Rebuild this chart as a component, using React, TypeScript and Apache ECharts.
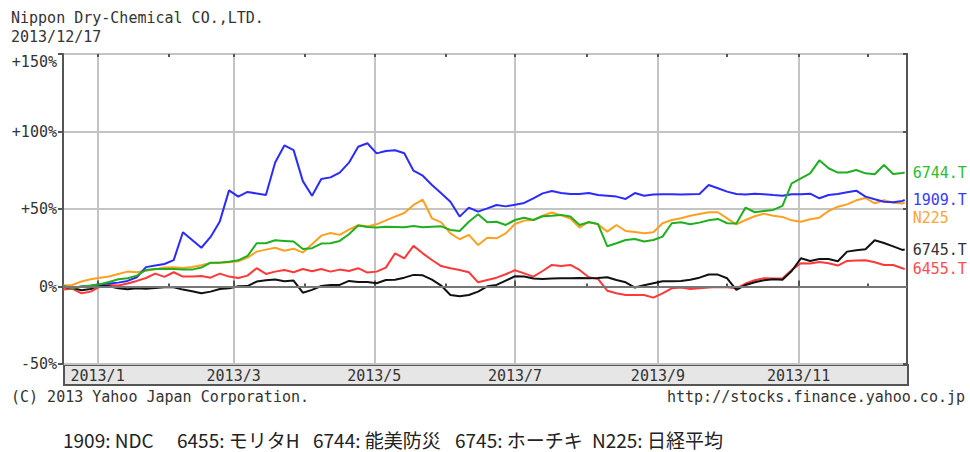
import React, { useEffect, useRef } from 'react';
import * as echarts from 'echarts';

const dates = [
  '2012-12-17', '2012-12-21', '2012-12-25', '2012-12-29', '2013-01-02', '2013-01-06', '2013-01-10', '2013-01-14',
  '2013-01-18', '2013-01-22', '2013-01-26', '2013-01-30', '2013-02-03', '2013-02-07', '2013-02-11', '2013-02-15',
  '2013-02-19', '2013-02-23', '2013-02-27', '2013-03-03', '2013-03-07', '2013-03-11', '2013-03-15', '2013-03-19',
  '2013-03-23', '2013-03-27', '2013-03-31', '2013-04-04', '2013-04-08', '2013-04-12', '2013-04-16', '2013-04-20',
  '2013-04-24', '2013-04-28', '2013-05-02', '2013-05-06', '2013-05-10', '2013-05-14', '2013-05-18', '2013-05-22',
  '2013-05-26', '2013-05-30', '2013-06-03', '2013-06-07', '2013-06-11', '2013-06-15', '2013-06-19', '2013-06-23',
  '2013-06-27', '2013-07-01', '2013-07-05', '2013-07-09', '2013-07-13', '2013-07-17', '2013-07-21', '2013-07-25',
  '2013-07-29', '2013-08-02', '2013-08-06', '2013-08-10', '2013-08-14', '2013-08-18', '2013-08-22', '2013-08-26',
  '2013-08-30', '2013-09-03', '2013-09-07', '2013-09-11', '2013-09-15', '2013-09-19', '2013-09-23', '2013-09-27',
  '2013-10-01', '2013-10-05', '2013-10-09', '2013-10-13', '2013-10-17', '2013-10-21', '2013-10-25', '2013-10-29',
  '2013-11-02', '2013-11-06', '2013-11-10', '2013-11-14', '2013-11-18', '2013-11-22', '2013-11-26', '2013-11-30',
  '2013-12-04', '2013-12-08', '2013-12-12', '2013-12-16', '2013-12-17',
];

// % change, 1909.T (NDC)
const v1909 = [
  0, -1, 0, 0.5, 1.4, 2, 2.5, 3.6, 6, 12.5, 13.5, 14.5, 17, 35, 30, 25,
  32, 42, 62, 58, 61, 60, 59, 80, 91, 88, 68, 58.6, 69.4, 70.4, 73.5, 79.9,
  90.2, 92.4, 85.9, 87.4, 87.9, 86, 74.7, 71.5, 65.5, 60.1, 54.7, 45.1, 50.9, 48.3, 50.4, 52.6,
  51.7, 52.8, 53.9, 56.9, 60.1, 61.6, 60.3, 59.7, 59.7, 60.3, 59, 58.6, 58, 56.5, 60.3, 58.6,
  59.3, 59.5, 59.5, 59.3, 59.5, 59.7, 65.5, 63.4, 61.2, 59.7, 59.3, 59.9, 59.5, 59, 58.6, 59.5,
  59.5, 59.9, 56.9, 59, 59.7, 60.8, 61.8, 58, 56.3, 54.7, 54.3, 55.2, 55.8,
];

// % change, 6744.T (能美防災)
const v6744 = [
  0.5, -1.2, 0, 0.6, 1.4, 2.9, 4.7, 5.3, 7, 10.7, 11.3, 11.3, 11.3, 10.9, 10.9, 12.2,
  15.4, 15.4, 16, 16.9, 19.7, 27.9, 27.9, 29.8, 29.4, 29, 24.2, 24.7, 27.7, 27.9, 29.4, 33.7,
  39.3, 38.4, 38, 38.6, 38.4, 38.2, 39.1, 38.2, 38.6, 38.8, 36.5, 35.8, 41.8, 46.6, 41.4, 41.8,
  39.7, 42.9, 44.4, 42.9, 45.3, 45.7, 46.2, 45.1, 39.7, 41.4, 40.3, 26, 27.9, 30, 30.7, 29,
  30, 32.2, 40.8, 41.4, 40.1, 41.2, 42.7, 43.6, 40.8, 40.6, 50.9, 47.9, 48.7, 49.4, 52, 66.6,
  69.8, 73, 81.4, 76.3, 73.5, 73.5, 75.2, 73, 72.4, 78.4, 72.6, 73.2, 73.5,
];

// % change, N225 (日経平均)
const vN225 = [
  0.6, 1, 3.2, 4.7, 5.7, 6.4, 8.1, 9.6, 9.2, 10.2, 11.1, 12.2, 12.4, 12, 12.6, 13.7,
  15.2, 15.4, 15.6, 16.3, 18.6, 22.5, 23.8, 25, 23.1, 24.4, 21.9, 27.2, 32.8, 34.5, 33.3, 36.7,
  39.5, 38.8, 40.1, 42.7, 45.1, 47.4, 52.6, 56, 44, 41.4, 34.3, 30.5, 33.3, 26.8, 31.5, 31.1,
  34.3, 40.3, 42.5, 42.9, 45.7, 47.7, 45.9, 43.8, 38, 41.8, 40.1, 35.4, 39.7, 35.8, 35.2, 34.3,
  35, 40.8, 42.9, 44, 45.7, 46.8, 47.9, 47.9, 44, 40.1, 42.9, 45.3, 47, 45.7, 44.9, 42.7,
  41.8, 43.4, 44.4, 48.7, 51.5, 53, 55.6, 57.1, 53.7, 55.6, 54.1, 53.5, 54.3,
];

// % change, 6455.T (モリタH)
const v6455 = [
  -2, -1.4, -4.4, -3.3, -0.1, 1, 0.6, 1.9, 3.6, 5.5, 8.3, 6.2, 9.2, 6.4, 6.4, 6.8,
  5.7, 8.3, 6.4, 5.5, 7, 11.8, 8.1, 9.6, 10.7, 9.2, 11.3, 9.8, 11.3, 9.6, 10.9, 10,
  11.8, 9, 9.6, 12.2, 21.4, 18.2, 26.2, 21.4, 17.1, 13.2, 11.8, 10.7, 9.2, 2.7, 4.2, 5.7,
  7.9, 10.5, 8.5, 6.4, 10, 13.9, 13.3, 13.9, 10.7, 6, 4.9, -2.7, -4.4, -5.5, -5.5, -5.5,
  -7.2, -4.4, -1.2, -0.7, -1.6, -1.2, -0.7, -0.3, -0.5, -1.2, 1.9, 4, 5.3, 5.1, 5.1, 10.7,
  15, 14.8, 15.8, 15, 13.5, 16.5, 16.7, 16.9, 15.6, 13.9, 13.9, 11.8, 11.3,
];

// % change, 6745.T (ホーチキ)
const v6745 = [
  -0.3, -0.9, -2.4, -1.6, 1, 0.1, -1.2, -1.8, -1.2, -1.4, -0.9, -0.5, -0.5, -2, -3.1, -4.4,
  -3.3, -1.6, -1.2, 0.1, 0.3, 3.2, 4, 4.5, 3.4, 3.8, -4, -2.2, 0.3, 1, 1, 3.6,
  2.9, 2.9, 2.1, 4.2, 4.4, 5.7, 7.5, 7.2, 4.4, 0.6, -5.5, -6.3, -5.5, -3.3, 0.1, 1,
  3.8, 6.6, 6.4, 5.1, 4.9, 5.1, 5.3, 5.3, 5.5, 5.3, 5.5, 6, 4.2, 2.7, -0.7, 0.8,
  2.1, 3.4, 3.4, 3.6, 4.4, 5.7, 7.7, 7.7, 5.3, -2.2, 1, 2.7, 4, 4.7, 4.4, 10,
  18.2, 16.5, 17.8, 17.8, 16.3, 22.5, 23.4, 24, 29.8, 28.1, 25.9, 23.6, 23.8,
];

const majorMonths = ['2013-01-01', '2013-03-01', '2013-05-01', '2013-07-01', '2013-09-01', '2013-11-01'];
const minorMonths = ['2013-02-01', '2013-04-01', '2013-06-01', '2013-08-01', '2013-10-01', '2013-12-01'];
const yTicks = { min: -50, max: 150, step: 50 };
const xRange = { min: '2012-12-17', max: '2013-12-18' };

const titleLines = ['Nippon Dry-Chemical CO.,LTD.', '2013/12/17'];
const copyrightText = '(C) 2013 Yahoo Japan Corporation.';
const urlText = 'http://stocks.finance.yahoo.co.jp';
const legendCodes = ['1909', '6455', '6744', '6745', 'N225'];
const legendNames = ['NDC', 'モリタH', '能美防災', 'ホーチキ', '日経平均'];

const mono = '"DejaVu Sans Mono", "Liberation Mono", monospace';

function toTs(s: string): number {
  const [y, m, d] = s.split('-').map(Number);
  return Date.UTC(y, m - 1, d);
}

function fmtMonth(v: number): string {
  const d = new Date(v);
  return d.getUTCFullYear() + '/' + (d.getUTCMonth() + 1);
}

export default function App() {
  const ref = useRef<HTMLDivElement>(null);

  useEffect(() => {
    if (!ref.current) return;
    const chart = echarts.init(ref.current, undefined, { renderer: 'svg' });

    const mk = (name: string, values: number[], color: string, labelColor: string, extra: any = {}) => ({
      name,
      type: 'line',
      data: dates.map((d, i) => [toTs(d), values[i]]),
      showSymbol: false,
      symbol: 'none',
      lineStyle: { color, width: 2 },
      itemStyle: { color },
      endLabel: {
        show: true,
        formatter: '{a}',
        color: labelColor,
        fontFamily: mono,
        fontSize: 15,
        distance: 8,
        ...(extra.labelOffset ? { offset: extra.labelOffset } : {}),
      },
      ...(extra.series || {}),
    });

    const legendX = [63, 177, 313, 455, 592];
    const xMin = toTs(xRange.min);
    const xMax = toTs(xRange.max);

    chart.setOption({
      animation: false,
      backgroundColor: '#fff',
      grid: {
        left: 63,
        right: 63,
        top: 54,
        bottom: 88,
        show: true,
        borderColor: '#555',
        borderWidth: 2,
        containLabel: false,
      },
      xAxis: [
        {
          type: 'value',
          min: xMin,
          max: xMax,
          position: 'bottom',
          axisLine: { show: true, lineStyle: { color: '#555', width: 2 } },
          axisTick: {
            show: true,
            inside: true,
            length: 6,
            lineStyle: { color: '#555', width: 2 },
            customValues: majorMonths.map(toTs),
          },
          axisLabel: {
            show: true,
            customValues: majorMonths.map(toTs),
            formatter: (v: number) => fmtMonth(v),
            color: '#333',
            fontFamily: mono,
            fontSize: 15,
            margin: 4,
          },
          splitLine: { show: true, lineStyle: { color: '#c4c4c4', width: 2 } },
        },
        {
          type: 'value',
          min: xMin,
          max: xMax,
          position: 'bottom',
          axisLine: { show: false },
          axisTick: {
            show: true,
            inside: true,
            length: 3,
            lineStyle: { color: '#555', width: 2 },
            customValues: minorMonths.map(toTs),
          },
          axisLabel: { show: false },
          splitLine: { show: false },
        },
        {
          type: 'value',
          min: xMin,
          max: xMax,
          position: 'top',
          axisLine: { show: false },
          axisTick: {
            show: true,
            inside: true,
            length: 3,
            lineStyle: { color: '#555', width: 2 },
            customValues: majorMonths.concat(minorMonths).map(toTs),
          },
          axisLabel: { show: false },
          splitLine: { show: false },
        },
      ],
      yAxis: [
        {
          type: 'value',
          min: yTicks.min,
          max: yTicks.max,
          interval: yTicks.step,
          axisLine: { show: true, lineStyle: { color: '#555', width: 2 } },
          axisTick: { show: true, length: 5, lineStyle: { color: '#555', width: 2 } },
          axisLabel: {
            color: '#333',
            fontFamily: mono,
            fontSize: 15,
            margin: 6,
            formatter: (v: number) =>
              v === yTicks.max ? '{top|+' + v + '%}' : (v > 0 ? '+' : '') + v + '%',
            rich: {
              top: { padding: [16, 0, 0, 0], fontFamily: mono, fontSize: 15, color: '#333' },
            },
          },
          splitLine: { show: true, lineStyle: { color: '#c4c4c4', width: 2 } },
        },
        {
          type: 'value',
          min: yTicks.min,
          max: yTicks.max,
          interval: yTicks.step,
          position: 'right',
          axisLine: { show: false },
          axisTick: { show: true, inside: true, length: 4, lineStyle: { color: '#555', width: 2 } },
          axisLabel: { show: false },
          splitLine: { show: false },
        },
      ],
      series: [
        mk('N225', vN225, '#ffa020', '#ffa533', {
          labelOffset: [0, 16],
          series: {
            markLine: {
              silent: true,
              symbol: 'none',
              label: { show: false },
              lineStyle: { color: '#777', width: 2, type: 'solid' },
              data: [{ yAxis: 0 }],
            },
          },
        }),
        mk('6455.T', v6455, '#ff3838', '#ff4d4d'),
        mk('6745.T', v6745, '#111111', '#333333'),
        mk('1909.T', v1909, '#2b2bff', '#3b3bff'),
        mk('6744.T', v6744, '#1faf1f', '#2dbd2d'),
      ],
      graphic: [
        {
          type: 'rect',
          left: 63,
          top: 364,
          z: -10,
          shape: { width: 844, height: 20 },
          style: { fill: '#e6e6e6', stroke: '#555', lineWidth: 2 },
        },
        {
          type: 'text',
          left: 11,
          top: 10,
          style: { text: titleLines[0], font: '15px ' + mono, fill: '#333' },
        },
        {
          type: 'text',
          left: 11,
          top: 29,
          style: { text: titleLines[1], font: '15px ' + mono, fill: '#333' },
        },
        {
          type: 'text',
          left: 11,
          top: 389,
          style: { text: copyrightText, font: '15px ' + mono, fill: '#333' },
        },
        {
          type: 'text',
          right: 5,
          top: 389,
          style: { text: urlText, font: '15px ' + mono, fill: '#333' },
        },
        ...legendCodes.map((c, i) => ({
          type: 'text',
          left: legendX[i],
          top: 430,
          style: {
            text: c + ': ' + legendNames[i],
            font: '19px "Noto Sans CJK JP", "Noto Sans", sans-serif',
            fill: '#222',
          },
        })),
      ],
    });

    return () => chart.dispose();
  }, []);

  return (
    <div
      ref={ref}
      style={{ position: 'absolute', left: 0, top: 0, width: 970, height: 452, background: '#fff' }}
    />
  );
}
